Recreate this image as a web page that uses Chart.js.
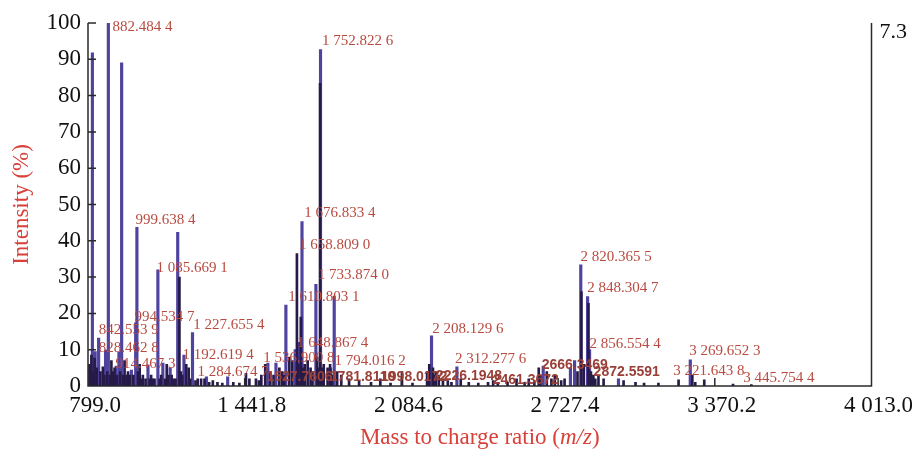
<!DOCTYPE html>
<html>
<head>
<meta charset="utf-8">
<title>MALDI spectrum</title>
<script src="https://cdn.jsdelivr.net/npm/chart.js@4"></script>
<style>
  html, body { margin: 0; padding: 0; background: #fff; }
</style>
</head>
<body>
<canvas id="spec" width="912" height="449"></canvas>
<script>
// axis ticks
const xTickValues = [799.0, 1441.8, 2084.6, 2727.4, 3370.2, 4013.0];
const yTickValues = [0, 10, 20, 30, 40, 50, 60, 70, 80, 90, 100];

// main peaks (lighter purple)
const mzPeaks = [817, 828.46, 842.55, 871, 882.48, 914.47, 926, 937, 977, 994.53, 999.64, 1045,
  1085.67, 1106, 1136, 1167, 1192.62, 1227.66, 1284.67, 1372, 1536.9, 1570, 1610.8, 1648.87,
  1666, 1676.83, 1733.87, 1752.82, 1794.02, 1809, 2208.13, 2312.28, 2666.35, 2778, 2795,
  2820.37, 2848.3, 2856.55, 2975, 3269.65];
const intPeaks = [91.8, 9.5, 13.2, 9.9, 100, 5.5, 9.4, 89, 4.4, 17.4, 43.7, 5.8,
  32, 6.3, 5, 42.3, 8.5, 14.7, 2.5, 2.5, 6.3, 6.3, 22.3, 10,
  12, 45.3, 28, 92.7, 5, 24.8, 13.8, 5.3, 5.5, 5, 7,
  33.4, 24.6, 10, 2, 7.2];

// dark bars (noise floor and shoulders)
const mzBase = [805, 813, 820, 826, 835, 850, 860, 866, 878, 889, 895, 902, 908, 918, 931, 943, 949,
  957, 963, 970, 985, 1004, 1011, 1018, 1024, 1035, 1052, 1058, 1065, 1072, 1093, 1099, 1115, 1122,
  1129, 1142, 1150, 1158, 1174, 1180, 1186, 1202, 1212, 1218, 1240, 1249, 1263, 1277, 1296, 1311,
  1330, 1350, 1395, 1420, 1447, 1461, 1488, 1500, 1510, 1526, 1547, 1560, 1584, 1596, 1604, 1625,
  1637, 1656, 1662, 1672, 1682, 1688, 1700, 1712, 1720, 1739, 1745, 1751, 1760, 1766, 1781.8, 1792,
  1800, 1821, 1838, 1870, 1911, 1960, 1998, 2040, 2087, 2130, 2190, 2199, 2214, 2220, 2226, 2238,
  2255, 2275, 2290, 2328, 2361, 2400, 2440, 2461, 2480, 2520, 2557, 2590, 2607, 2630, 2648, 2655,
  2681, 2700, 2714, 2740, 2754, 2807, 2823, 2833, 2852, 2862, 2872, 2880, 2893, 2914, 2996, 3045,
  3080, 3139, 3221.6, 3278, 3290, 3327, 3445, 3520];
const intBase = [6, 8.5, 4, 7.7, 5, 4, 5.3, 3, 4, 3, 7, 4, 5, 3, 4, 3, 7,
  3, 4, 3, 3, 4, 6, 2, 3, 2, 2, 3, 2, 2, 2, 3, 2, 6,
  3, 3, 2, 2, 30, 4, 3, 6, 5, 2, 1.5, 2, 2, 2, 1, 1.5,
  1, 0.8, 1, 0.8, 3.5, 2, 2, 1.5, 3, 6, 4, 3, 5, 4, 3, 8,
  7, 36.5, 6, 19, 5, 6, 7, 5, 4, 8, 5, 83.4, 5, 6, 5, 6,
  3, 4, 3, 2, 1.5, 1, 2, 0.8, 4, 0.8, 4, 6, 5, 3, 4, 3,
  2, 1.5, 1, 2, 1, 0.8, 1, 1.5, 1, 1, 2, 1, 2, 1.5, 5, 3,
  4, 2, 3, 1.5, 2, 4, 26, 6, 22.8, 4, 3, 2, 3, 2, 1.5, 1,
  0.8, 0.8, 1.7, 3, 1, 1.7, 0.5, 0.4];

// peak annotations: text, and where the text starts (m/z, intensity %)
const labelText = ["882.484 4", "1 752.822 6", "999.638 4", "1 085.669 1", "1 676.833 4", "1 658.809 0",
  "1 733.874 0", "1 610.803 1", "994.534 7", "1 227.655 4", "842.553 9", "828.462 8", "1 192.619 4",
  "914.467 3", "1 284.674 7", "1 648.867 4", "1 536.900 8", "1 794.016 2", "2 208.129 6", "2 312.277 6",
  "2 820.365 5", "2 848.304 7", "2 856.554 4", "3 269.652 3", "3 221.643 8", "3 445.754 4"];
const labelMz = [900, 1759, 994, 1080, 1686, 1665, 1741, 1620, 990, 1231, 843, 843, 1187,
  912, 1248, 1656, 1518, 1810, 2211, 2304,
  2819, 2847, 2856, 3265, 3200, 3487];
const labelInt = [98.9, 95.0, 45.7, 32.5, 47.7, 38.8, 30.6, 24.5, 19.0, 16.8, 15.4, 10.5, 8.5,
  6.1, 3.9, 11.8, 7.7, 6.9, 15.7, 7.4, 35.5, 27.0, 11.6, 9.6, 4.1, 2.2];

// instrument labels (bold)
const softText = ["1527.7606", "1781.8110", "1998.0172", "2226.1948", "2461.3672", "2666.3469", "2872.5591"];
const softMz = [1531, 1791, 2001, 2226, 2459, 2660, 2873];
const softInt = [2.5, 2.5, 2.5, 2.8, 1.7, 5.8, 3.9];

const SERIF = "'Liberation Serif', 'Times New Roman', serif";
const TITLE_RED = "#d8403a";

function fmtTick(v) {
  const s = v.toFixed(1);
  const [i, d] = s.split(".");
  return (i.length > 3 ? i.slice(0, i.length - 3) + " " + i.slice(-3) : i) + "." + d;
}

const decor = {
  id: "decor",
  afterDatasetsDraw(chart) {
    const { ctx, chartArea: a, scales: { x, y } } = chart;
    ctx.save();

    // frame: left, bottom, right (no top)
    ctx.strokeStyle = "#2a2a2a";
    ctx.lineWidth = 1.5;
    ctx.beginPath();
    ctx.moveTo(a.left, a.top);
    ctx.lineTo(a.left, a.bottom);
    ctx.lineTo(a.right, a.bottom);
    ctx.lineTo(a.right, a.top);
    // inward tick marks
    yTickValues.forEach(v => {
      const py = y.getPixelForValue(v);
      ctx.moveTo(a.left, py);
      ctx.lineTo(a.left + 8, py);
    });
    xTickValues.forEach(v => {
      const px = x.getPixelForValue(v);
      ctx.moveTo(px, a.bottom);
      ctx.lineTo(px, a.bottom - 8);
    });
    ctx.stroke();

    // peak labels
    ctx.textBaseline = "middle";
    ctx.textAlign = "left";
    ctx.font = "15px " + SERIF;
    ctx.fillStyle = "#b84a3f";
    labelText.forEach((t, i) => {
      ctx.fillText(t, x.getPixelForValue(labelMz[i]), y.getPixelForValue(labelInt[i]));
    });
    ctx.font = "bold 14px 'Liberation Sans', Arial, sans-serif";
    ctx.fillStyle = "#9a4038";
    softText.forEach((t, i) => {
      ctx.fillText(t, x.getPixelForValue(softMz[i]), y.getPixelForValue(softInt[i]));
    });

    // x title with italic m/z
    const parts = [["Mass to charge ratio (", ""], ["m/z", "italic "], [")", ""]];
    let w = 0;
    parts.forEach(p => { ctx.font = p[1] + "23px " + SERIF; w += ctx.measureText(p[0]).width; });
    let px = (a.left + a.right) / 2 - w / 2;
    ctx.fillStyle = TITLE_RED;
    parts.forEach(p => {
      ctx.font = p[1] + "23px " + SERIF;
      ctx.fillText(p[0], px, 438);
      px += ctx.measureText(p[0]).width;
    });
    ctx.restore();
  }
};

new Chart(document.getElementById("spec"), {
  type: "bar",
  data: {
    datasets: [
      {
        data: mzBase.map((m, i) => ({ x: m, y: intBase[i] })),
        backgroundColor: "#261a48",
        barThickness: 2
      },
      {
        data: mzPeaks.map((m, i) => ({ x: m, y: intPeaks[i] })),
        backgroundColor: "#4f43a0",
        barThickness: 2.5
      }
    ]
  },
  options: {
    responsive: false,
    animation: false,
    layout: { padding: { top: 23, left: 0, right: 0, bottom: 0 } },
    plugins: { legend: { display: false }, tooltip: { enabled: false } },
    datasets: { bar: { grouped: false } },
    scales: {
      x: {
        type: "linear",
        min: 799,
        max: 4013,
        offset: false,
        grid: { display: false, drawTicks: false },
        border: { display: false },
        afterBuildTicks: s => { s.ticks = xTickValues.map(v => ({ value: v })); },
        afterFit: s => { s.height = 63; },
        ticks: {
          callback: v => fmtTick(v),
          font: { family: SERIF, size: 23 },
          color: "#111",
          padding: 6,
          labelOffset: 7,
          maxRotation: 0,
          autoSkip: false
        }
      },
      y: {
        min: 0,
        max: 100,
        grid: { display: false, drawTicks: false },
        border: { display: false },
        afterBuildTicks: s => { s.ticks = yTickValues.map(v => ({ value: v })); },
        afterFit: s => { s.width = 88; },
        ticks: { font: { family: SERIF, size: 23 }, color: "#111", padding: 7 },
        title: {
          display: true,
          text: "Intensity (%)",
          color: TITLE_RED,
          font: { family: SERIF, size: 23 },
          padding: { top: 8, bottom: 0 }
        }
      },
      y2: {
        position: "right",
        min: 0,
        max: 7.3,
        grid: { display: false, drawTicks: false },
        border: { display: false },
        afterBuildTicks: s => { s.ticks = [{ value: 7.3 }]; },
        afterFit: s => { s.width = 39; },
        ticks: {
          callback: v => v.toFixed(1),
          font: { family: SERIF, size: 22 },
          color: "#111",
          padding: 8,
          labelOffset: 9
        }
      }
    }
  },
  plugins: [decor]
});
</script>
</body>
</html>
